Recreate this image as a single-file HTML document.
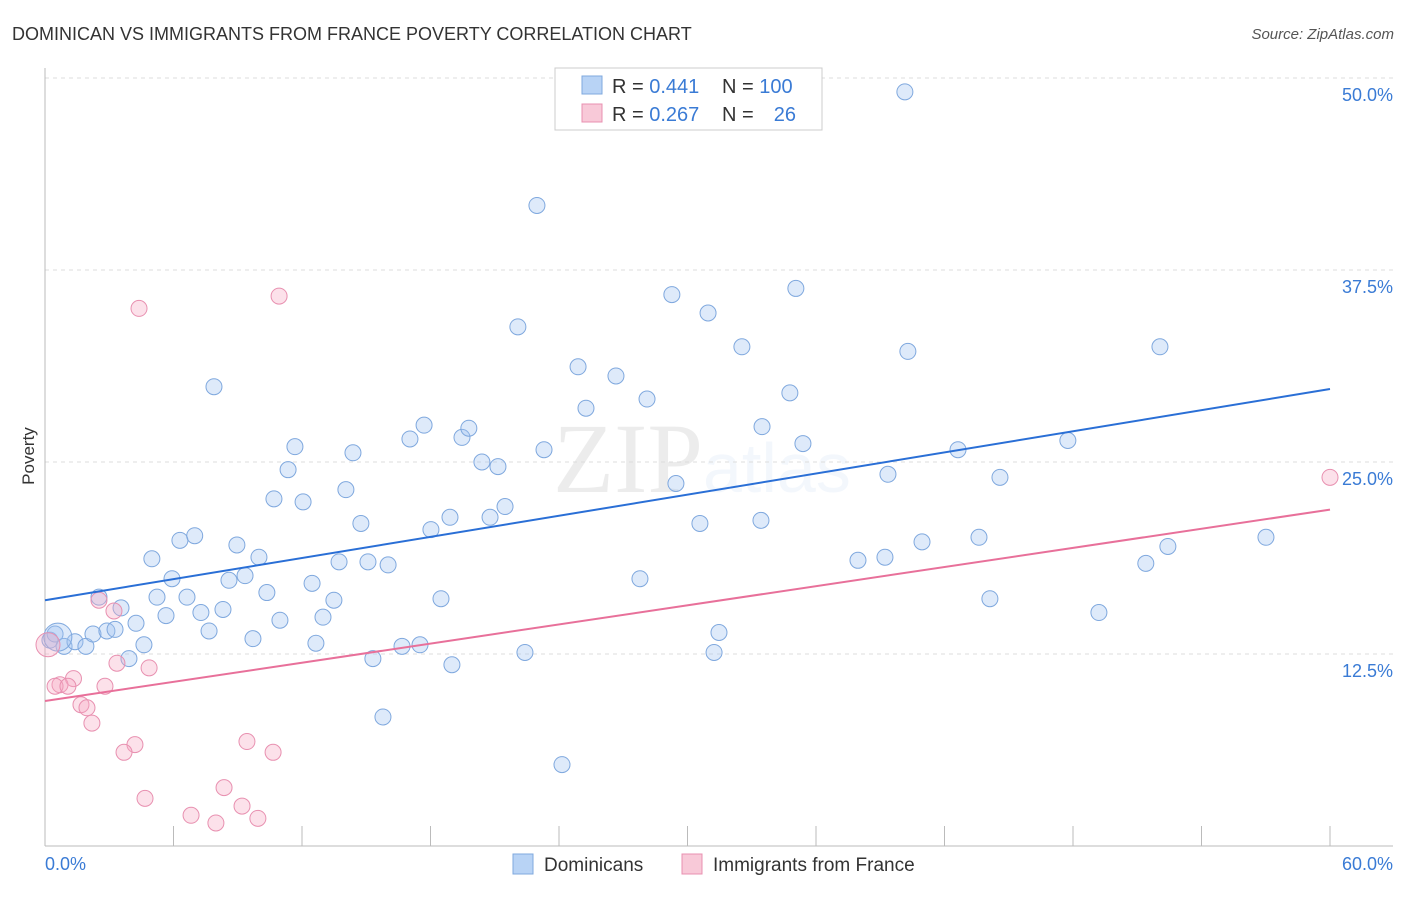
<!DOCTYPE html>
<html><head><meta charset="utf-8"><style>
body{margin:0;background:#fff;font-family:"Liberation Sans",sans-serif;}
</style></head><body>
<svg width="1406" height="892" xmlns="http://www.w3.org/2000/svg" font-family="Liberation Sans, sans-serif">
<text x="12" y="40" font-size="18" fill="#333">DOMINICAN VS IMMIGRANTS FROM FRANCE POVERTY CORRELATION CHART</text>
<text x="1394" y="39" font-size="15" fill="#555" text-anchor="end" font-style="italic">Source: ZipAtlas.com</text>
<text x="553" y="492" font-size="100" fill="#000" opacity="0.07" font-family="Liberation Serif, serif">ZIP<tspan font-family="Liberation Sans, sans-serif" font-size="70" fill="#3a7bd5" opacity="0.8">atlas</tspan></text>
<g id="grid"></g>
<g id="axes"></g>
<g id="pts"></g>
<g id="trend"></g>
<text x="34" y="456" font-size="17" fill="#333" text-anchor="middle" transform="rotate(-90 34 456)">Poverty</text>
<g>
<rect x="555" y="68" width="267" height="62" fill="#fff" stroke="#ccc"/>
<rect x="582" y="76" width="20" height="18" fill="#b8d3f5" stroke="#7fa8de"/>
<rect x="582" y="104" width="20" height="18" fill="#f8c9d8" stroke="#e890b0"/>
<text x="612" y="93" font-size="20" fill="#333">R = <tspan fill="#3a7bd5">0.441</tspan></text>
<text x="722" y="93" font-size="20" fill="#333">N = <tspan fill="#3a7bd5">100</tspan></text>
<text x="612" y="121" font-size="20" fill="#333">R = <tspan fill="#3a7bd5">0.267</tspan></text>
<text x="722" y="121" font-size="20" fill="#333">N =</text>
<text x="796" y="121" font-size="20" fill="#3a7bd5" text-anchor="end">26</text>
</g>
<g>
<rect x="513" y="854" width="20" height="20" fill="#b8d3f5" stroke="#7fa8de"/>
<text x="544" y="871" font-size="19" fill="#333">Dominicans</text>
<rect x="682" y="854" width="20" height="20" fill="#f8c9d8" stroke="#e890b0"/>
<text x="713" y="871" font-size="19" fill="#333">Immigrants from France</text>
</g>
</svg>
<script>
const yTicks=[12.5,25,37.5,50];
const yTickLabels=["12.5%","25.0%","37.5%","50.0%"];
const xTicks=[0,6,12,18,24,30,36,42,48,54,60];
const xTickLabels=["0.0%","60.0%"];
const domX=[0.23,0.47,0.89,1.40,1.91,2.24,2.52,2.89,3.27,3.55,3.92,4.25,4.62,4.99,5.23,5.65,5.93,6.30,6.63,6.99,7.28,7.66,7.89,8.31,8.59,8.96,9.34,9.71,9.99,10.36,10.69,10.97,11.35,11.67,12.05,12.47,12.65,12.98,13.49,13.73,14.05,14.38,14.75,15.08,15.31,15.78,16.02,16.67,17.04,17.51,17.70,18.02,18.49,18.91,19.00,19.47,19.79,20.40,20.78,21.15,21.48,22.08,22.41,22.97,23.30,24.14,24.89,25.26,26.66,27.78,28.11,29.27,29.46,30.58,30.96,31.24,31.47,32.54,33.43,33.48,34.78,35.06,35.39,37.96,39.22,39.36,40.15,40.29,40.95,42.63,43.61,44.12,44.59,47.76,49.21,51.40,52.06,52.43,57.01,0.6];
const domY=[13.4,13.8,13.0,13.3,13.0,13.8,16.2,14.0,14.1,15.5,12.2,14.5,13.1,18.7,16.2,15.0,17.4,19.9,16.2,20.2,15.2,14.0,29.9,15.4,17.3,19.6,17.6,13.5,18.8,16.5,22.6,14.7,24.5,26.0,22.4,17.1,13.2,14.9,16.0,18.5,23.2,25.6,21.0,18.5,12.2,8.4,18.3,13.0,26.5,13.1,27.4,20.6,16.1,21.4,11.8,26.6,27.2,25.0,21.4,24.7,22.1,33.8,12.6,41.7,25.8,5.3,31.2,28.5,30.6,17.4,29.1,35.9,23.6,21.0,34.7,12.6,13.9,32.5,21.2,27.3,29.5,36.3,26.2,18.6,18.8,24.2,49.1,32.2,19.8,25.8,20.1,16.1,24.0,26.4,15.2,18.4,32.5,19.5,20.1,13.6];
const frX=[4.39,10.93,60.0,2.52,3.22,0.14,3.36,4.86,1.33,0.70,0.47,1.07,2.80,1.68,1.96,2.19,4.20,3.69,9.43,10.65,8.36,4.67,9.20,6.82,9.94,7.98];
const frY=[35.0,35.8,24.0,16.0,15.3,13.1,11.9,11.6,10.9,10.5,10.4,10.4,10.4,9.2,9.0,8.0,6.6,6.1,6.8,6.1,3.8,3.1,2.6,2.0,1.8,1.5];
const domTrend=[16.0,29.75];
const frTrend=[9.44,21.9];
const NS="http://www.w3.org/2000/svg";
function sx(v){return 45+v/60*1285;}
function sy(v){return 846-v/12.5*192;}
function mk(tag,attrs,parent){const e=document.createElementNS(NS,tag);for(const k in attrs)e.setAttribute(k,attrs[k]);document.getElementById(parent).appendChild(e);return e;}
yTicks.forEach((t,i)=>{
 const l=mk('line',{x1:45,x2:1393,y1:sy(t),y2:sy(t),stroke:'#ddd','stroke-dasharray':'4 4'},'grid');
 
 
 const tx=mk('text',{x:1393,y:sy(t)+23,'font-size':18,fill:'#3a7bd5','text-anchor':'end'},'grid');
 tx.textContent=yTickLabels[i];
 
 
});
const ax=mk('line',{x1:45,x2:45,y1:68,y2:846,stroke:'#bbb'},'axes');


const bx=mk('line',{x1:45,x2:1393,y1:846,y2:846,stroke:'#bbb'},'axes');


xTicks.forEach(t=>{
 const l=mk('line',{x1:sx(t),x2:sx(t),y1:826,y2:846,stroke:'#bbb'},'axes');
 
 
});
[[0,'start'],[60,'end']].forEach((p,i)=>{
 const tx=mk('text',{x:i==0?45:1393,y:870,'font-size':18,fill:'#3a7bd5','text-anchor':p[1]},'axes');
 tx.textContent=xTickLabels[i];
 
 
});
domX.forEach((x,i)=>{
 const big=i===domX.length-1;
 const c=mk('circle',{cx:sx(x),cy:sy(domY[i]),r:big?14:8,fill:'rgba(160,196,240,0.35)',stroke:'#7fa8de','stroke-width':1},'pts');
 
 
});
frX.forEach((x,i)=>{
 const c=mk('circle',{cx:sx(x),cy:sy(frY[i]),r:i===5?12:8,fill:'rgba(245,170,195,0.35)',stroke:'#e890b0','stroke-width':1},'pts');
 
 
});
const t1=mk('line',{x1:sx(0),y1:sy(domTrend[0]),x2:sx(60),y2:sy(domTrend[1]),stroke:'#2a6fd6','stroke-width':2},'trend');


const t2=mk('line',{x1:sx(0),y1:sy(frTrend[0]),x2:sx(60),y2:sy(frTrend[1]),stroke:'#e8709a','stroke-width':2},'trend');


</script>
</body></html>
